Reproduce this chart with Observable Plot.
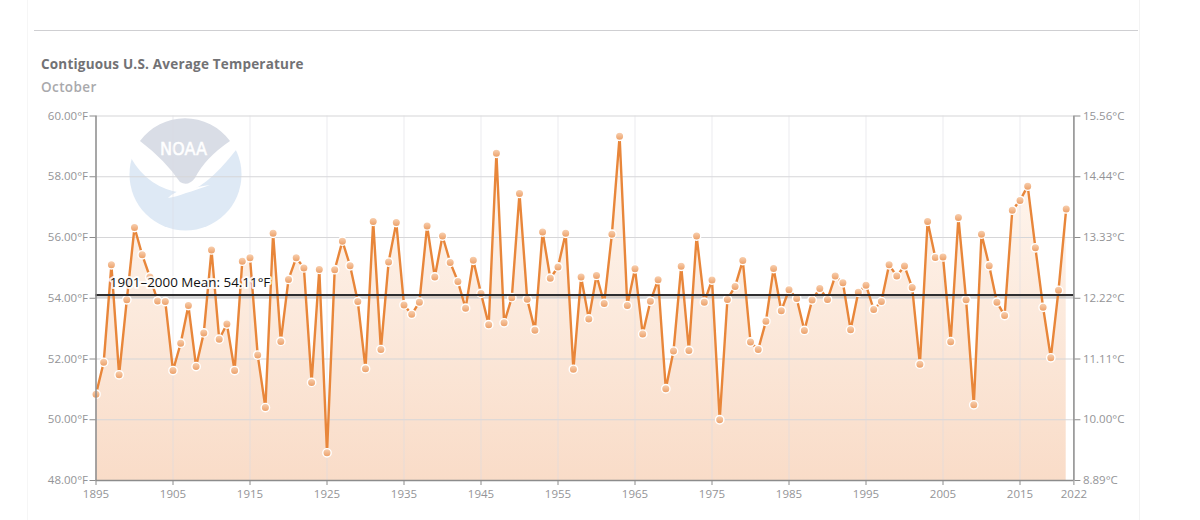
<!DOCTYPE html>
<html>
<head>
<meta charset="utf-8">
<script src="https://cdn.jsdelivr.net/npm/d3@7"></script>
<script src="https://cdn.jsdelivr.net/npm/@observablehq/plot@0.6"></script>
<style>
html,body{margin:0;padding:0;background:#fff;width:1200px;height:520px;overflow:hidden;}
#page{position:relative;width:1200px;height:520px;font-family:"Open Sans",sans-serif;}
#card{position:absolute;left:27px;top:0;width:1113px;height:520px;border-left:1px solid #f6f6f6;border-right:1px solid #f3f3f3;box-sizing:border-box;}
#rule{position:absolute;left:34px;top:30px;width:1104px;height:1px;background:#cfcfd2;}
#title{position:absolute;left:41px;top:55px;font-size:13.5px;font-weight:700;color:#727275;letter-spacing:.2px;line-height:18px;white-space:nowrap;}
#subtitle{position:absolute;left:41px;top:78px;font-size:13.5px;font-weight:600;color:#a9a9ac;letter-spacing:.4px;line-height:18px;}
#logo{position:absolute;left:0;top:0;}
#chart{position:absolute;left:0;top:100px;}
#chart svg{background:transparent;display:block;}
</style>
</head>
<body>
<div id="page">
  <div id="card"></div>
  <div id="rule"></div>
  <div id="title">Contiguous U.S. Average Temperature</div>
  <div id="subtitle">October</div>
  <svg id="logo" width="1200" height="520" aria-hidden="true">
    <circle cx="185.5" cy="174.5" r="56" fill="#deE9f5"/>
    <path d="M125,156 L131,158 Q148,188 182,193 Q205,190 236,150 L240,118 L130,118 Z" fill="#fff"/>
    <path d="M140,141 A56,56 0 0 1 230,141 Q205,158 195,178 Q188,187 180,182 Q165,160 140,141 Z" fill="#d9dde6"/>
    <path d="M168,198 Q176,190 186,190 Q200,186 210,185 Q196,190 186,193 Q176,197 168,198 Z" fill="#fff"/>
    <text x="183.5" y="155" text-anchor="middle" font-family="'DejaVu Sans'" font-weight="400" font-size="17" textLength="47" lengthAdjust="spacingAndGlyphs" fill="#fff" stroke="#fff" stroke-width=".5">NOAA</text>
  </svg>
  <div id="chart"></div>
</div>
<script>
const years = d3.range(1895, 2022);
const temps = [
50.84,51.89,55.10,51.48,53.95,56.33,55.43,54.70,53.91,53.89,
51.62,52.52,53.76,51.75,52.86,55.59,52.65,53.15,51.62,55.22,
55.33,52.13,50.40,56.14,52.58,54.62,55.33,55.00,51.23,54.95,
48.91,54.94,55.88,55.07,53.89,51.68,56.53,52.31,55.19,56.49,
53.78,53.47,53.87,56.38,54.70,56.05,55.18,54.55,53.67,55.25,
54.16,53.13,58.77,53.19,54.02,57.45,53.97,52.95,56.18,54.66,
55.03,56.14,51.66,54.70,53.32,54.75,53.83,56.11,59.33,53.76,
54.97,52.82,53.90,54.61,51.02,52.26,55.05,52.28,56.05,53.87,
54.60,50.00,53.96,54.39,55.24,52.56,52.31,53.24,54.98,53.59,
54.28,53.99,52.94,53.94,54.32,53.96,54.73,54.51,52.96,54.20,
54.43,53.63,53.89,55.10,54.73,55.06,54.35,51.83,56.53,55.34,
55.36,52.57,56.66,53.95,50.49,56.11,55.07,53.87,53.43,56.90,
57.22,57.69,55.66,53.70,52.04,54.26,56.94];
const xTicks = [1895,1905,1915,1925,1935,1945,1955,1965,1975,1985,1995,2005,2015,2022];
const yTicks = [48,50,52,54,56,58,60];
const fLabels = ["48.00°F","50.00°F","52.00°F","54.00°F","56.00°F","58.00°F","60.00°F"];
const cLabels = ["8.89°C","10.00°C","11.11°C","12.22°C","13.33°C","14.44°C","15.56°C"];
const meanValue = 54.11;
const meanLabel = "1901–2000 Mean: 54.11°F";
const baseValue = 48;

const rows = years.map((year, i) => ({year, temp: temps[i]}));
const AX = "#8c8c8c", TXT = "#949497", ORANGE = "#e8863a";

const plot = Plot.plot({
  width: 1200, height: 420,
  marginTop: 15.5, marginBottom: 40, marginLeft: 95.5, marginRight: 126.6,
  style: {fontFamily: '"Open Sans",sans-serif', fontSize: "11.5px", background: "transparent", overflow: "visible"},
  x: {type: "linear", domain: [1895, 2022]},
  y: {domain: [48, 60]},
  marks: [
    Plot.areaY(rows, {x: "year", y1: baseValue, y2: "temp", fill: "url(#areaFill)"}),
    Plot.gridY(yTicks, {stroke: "#d6d6d8", strokeOpacity: 1, strokeWidth: 1.2}),
    Plot.gridX(xTicks, {stroke: "#dcdce2", strokeOpacity: .55, strokeWidth: 1}),
    Plot.ruleY([meanValue], {stroke: "#999", strokeWidth: 4, strokeOpacity: .35, dy: 1}),
    Plot.lineY(rows, {x: "year", y: "temp", stroke: ORANGE, strokeWidth: 2.4, curve: "linear"}),
    Plot.dot(rows, {x: "year", y: "temp", r: 4.2, fill: "url(#dotFill)", stroke: "#fff", strokeWidth: 1.4}),
    Plot.ruleY([meanValue], {stroke: "#2e2e30", strokeWidth: 2}),
    Plot.text([meanLabel], {x: () => 1896.8, y: () => meanValue, dy: -12, text: d => d, textAnchor: "start", fill: "#111", stroke: "#fff", strokeWidth: 4, strokeOpacity: .85, fontSize: 13.4}),
    Plot.ruleX([1895], {stroke: AX, strokeWidth: 1.5}),
    Plot.ruleX([2022], {stroke: AX, strokeWidth: 1.5}),
    Plot.ruleY([48], {stroke: AX, strokeWidth: 1.5}),
    Plot.axisY({ticks: yTicks, tickFormat: d => fLabels[yTicks.indexOf(d)], anchor: "left", tickSize: 6, tickPadding: 2, stroke: AX, color: TXT, label: null, fontSize: 11.5}),
    Plot.axisY({ticks: yTicks, tickFormat: d => cLabels[yTicks.indexOf(d)], anchor: "right", tickSize: 6, tickPadding: 3, stroke: AX, color: TXT, label: null, fontSize: 11.5}),
    Plot.axisX({ticks: xTicks, tickFormat: "d", anchor: "bottom", tickSize: 5, tickPadding: 4, stroke: AX, color: TXT, label: null, fontSize: 11.5})
  ]
});

const NS = "http://www.w3.org/2000/svg";
const defs = document.createElementNS(NS, "defs");
defs.innerHTML = `
  <linearGradient id="areaFill" x1="0" y1="0" x2="0" y2="1">
    <stop offset="0" stop-color="#fff8f2"/>
    <stop offset="1" stop-color="#f9dcc8"/>
  </linearGradient>
  <linearGradient id="dotFill" x1="0" y1="0" x2="0" y2="1">
    <stop offset="0" stop-color="#f9d3b5"/>
    <stop offset="1" stop-color="#eb9c62"/>
  </linearGradient>`;
plot.insertBefore(defs, plot.firstChild);
document.getElementById("chart").appendChild(plot);
</script>
</body>
</html>
